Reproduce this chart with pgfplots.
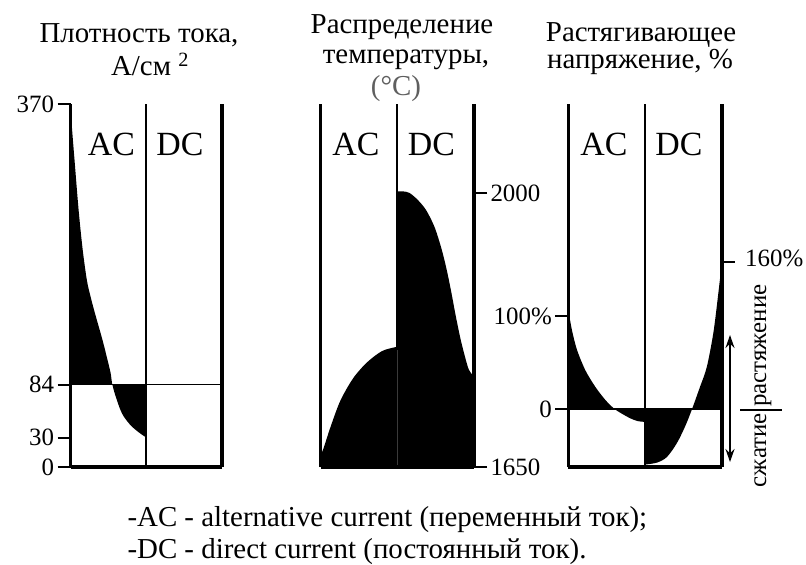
\documentclass[border=0pt]{standalone}
\usepackage{fontspec}
\setmainfont{Liberation Serif}
\usepackage{pgfplots}
\pgfplotsset{compat=1.18}
\usetikzlibrary{arrows.meta}

\newcommand{\fs}[1]{\fontsize{#1}{#1}\selectfont}
\definecolor{unitgray}{RGB}{95,95,95}

\pgfplotsset{
  panel/.style={
    scale only axis, height=363bp, xmin=0, xmax=2, clip=false,
    axis x line=none,
    axis line style={line width=3.2bp, -},
    tick align=outside, major tick length=13bp,
    ytick style={line width=2bp, black},
    xtick=\empty,
    yticklabel style={font=\fs{25}},
    /pgf/number format/assume math mode=true,
  },
  area/.style={fill=black, draw=none, smooth, tension=0.5},
}

\begin{document}
\begin{tikzpicture}
\path[use as bounding box] (0,0) rectangle (806bp,-565bp);

% current density
\begin{axis}[panel, at={(70.5bp,-467bp)}, anchor=south west, width=151.5bp,
  ymin=0, ymax=370, axis y line*=left,
  ytick={0,30,84,370}, yticklabels={0,30,84,370}]
\addplot[area] coordinates {
  (0,370) (0.02,345) (0.053,313) (0.107,262) (0.16,222) (0.217,190)
  (0.27,172) (0.329,155) (0.417,131) (0.47,115) (0.529,96) (0.547,86)
  (0.58,76) (0.613,68) (0.66,58) (0.707,51) (0.8,42) (0.907,35) (1,30)}
  -- (axis cs:1,84) -- (axis cs:0,84) -- cycle;
\draw[line width=1.2bp] (axis cs:0,84) -- (axis cs:2,84);
\draw[line width=2bp] (axis cs:1,0) -- (axis cs:1,370);
\draw[line width=3.2bp] (axis cs:0,0) -- (axis cs:2,0);
\draw[line width=3.2bp] (axis cs:2,0) -- (axis cs:2,370);
\end{axis}

% temperature
\begin{axis}[panel, at={(320.5bp,-467bp)}, anchor=south west, width=153.5bp,
  ymin=1650, ymax=2113.7, axis y line*=right,
  ytick={1650,2000}, yticklabels={1650,2000}]
\addplot[area] coordinates {
  (0,1665) (0.04,1674) (0.13,1701) (0.26,1735) (0.43,1764) (0.61,1784)
  (0.8,1798) (0.97,1803) (1,1803)}
  -- (axis cs:1,1650) -- (axis cs:0,1650) -- cycle;
\addplot[area] coordinates {
  (1,2002) (1.08,2002) (1.161,2000) (1.269,1991) (1.377,1978) (1.484,1957)
  (1.57,1931) (1.635,1906) (1.699,1876) (1.764,1842) (1.828,1812)
  (1.893,1787) (1.935,1774) (2,1765)}
  -- (axis cs:2,1650) -- (axis cs:1,1650) -- cycle;
\draw[line width=2bp] (axis cs:1,1800) -- (axis cs:1,2113.7);
\draw[line width=3.2bp] (axis cs:0,1650) -- (axis cs:0,2113.7);
\draw[line width=3.2bp] (axis cs:0,1650) -- (axis cs:2,1650);
\end{axis}

% tensile stress
\begin{axis}[panel, at={(568.3bp,-467bp)}, anchor=south west, width=153.7bp,
  ymin=-62.7, ymax=329.7, axis y line*=left,
  ytick={0,100}, yticklabels={0,100\%}]
\addplot[area] coordinates {
  (0,107) (0.048,85) (0.113,64) (0.221,42) (0.351,24) (0.48,10) (0.588,1)
  (0.675,-4) (0.805,-10) (0.9,-13) (1,-14)}
  -- (axis cs:1,0) -- (axis cs:0,0) -- cycle;
\addplot[area] coordinates {
  (1,-60) (1.152,-58) (1.282,-52) (1.412,-37) (1.519,-19) (1.606,-1)
  (1.714,24) (1.801,45) (1.887,82) (1.952,125) (2,160)}
  -- (axis cs:2,0) -- (axis cs:1,0) -- cycle;
\draw[line width=1.2bp] (axis cs:0,0) -- (axis cs:2,0);
\draw[line width=2bp] (axis cs:1,-62.7) -- (axis cs:1,329.7);
\draw[line width=3.2bp] (axis cs:0,-62.7) -- (axis cs:2,-62.7);
\draw[line width=3.2bp] (axis cs:2,-62.7) -- (axis cs:2,329.7);
\end{axis}

% titles
\node[anchor=base, font=\fs{29}] at (139bp,-42bp) {Плотность тока,};
\node[anchor=base, font=\fs{29}] at (150bp,-75bp) {A/см \textsuperscript{2}};
\node[anchor=base, font=\fs{29}] at (402bp,-33bp) {Распределение};
\node[anchor=base, font=\fs{29}] at (406bp,-63bp) {температуры,};
\node[anchor=base, font=\fs{29}, text=unitgray] at (396bp,-95bp) {(°C)};
\node[anchor=base, font=\fs{29}] at (641bp,-41bp) {Растягивающее};
\node[anchor=base, font=\fs{29}] at (640bp,-68bp) {напряжение, \%};

% AC / DC captions
\foreach \x/\t in {111.5/AC, 180/DC, 356/AC, 431.5/DC, 604/AC, 679/DC}
  \node[anchor=base, font=\fs{34}] at (\x bp,-155bp) {\t};

% right-hand annotation of the stress panel
\draw[line width=2bp] (722bp,-262bp) -- (735bp,-262bp);
\node[anchor=base west, font=\fs{25}, inner sep=0pt] at (745bp,-266bp) {160\%};
\draw[line width=1.8bp, {Stealth[length=13bp,width=9bp]}-{Stealth[length=13bp,width=9bp]}]
  (730bp,-335bp) -- (730bp,-462bp);
\node[rotate=90, anchor=base west, font=\fs{25}, inner sep=0pt] at (766bp,-407bp) {растяжение};
\node[rotate=90, anchor=base east, font=\fs{25}, inner sep=0pt] at (766bp,-413bp) {сжатие};
\draw[line width=1.5bp] (740bp,-410bp) -- (782bp,-410bp);

% legend text
\node[anchor=base west, font=\fs{29}] at (124bp,-526bp) {-AC - alternative current (переменный ток);};
\node[anchor=base west, font=\fs{29}] at (124bp,-558bp) {-DC - direct current (постоянный ток).};
\end{tikzpicture}
\end{document}
